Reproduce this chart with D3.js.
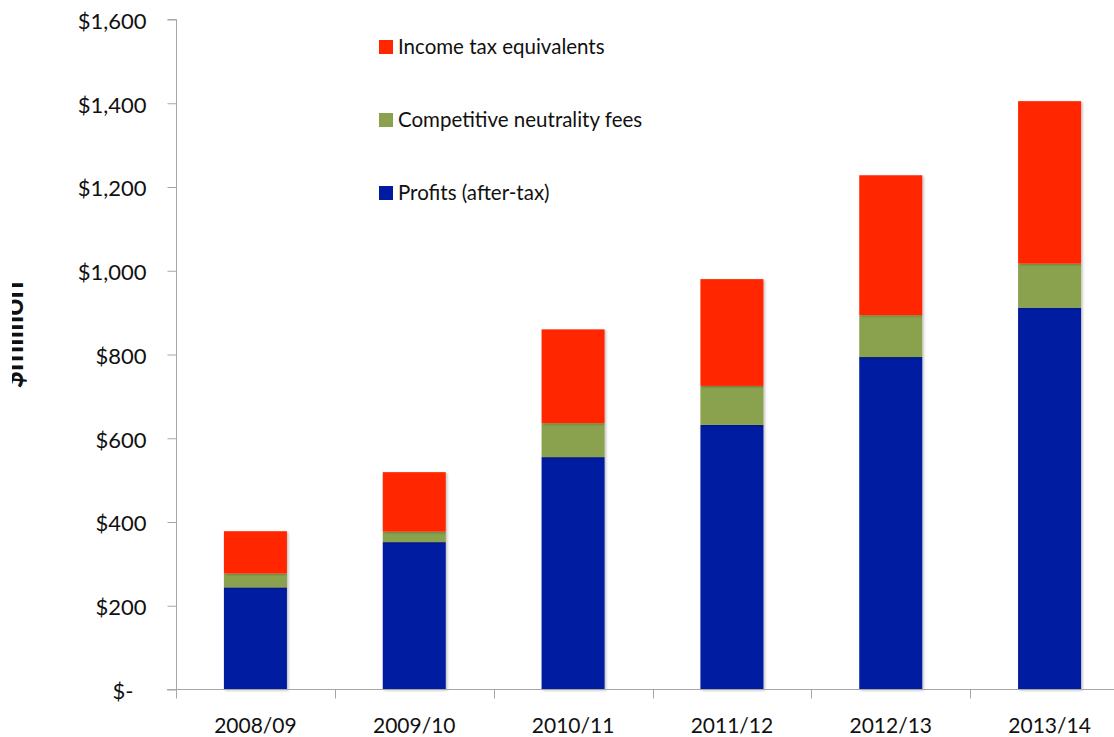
<!DOCTYPE html>
<html><head><meta charset="utf-8">
<script src="https://cdn.jsdelivr.net/npm/d3@7"></script>
<style>
body{margin:0;background:#fff;}
text{font-family:"Lato","Open Sans",sans-serif;fill:#111;}
</style></head>
<body><svg id="c" width="1114" height="737"></svg>
<script>
const categories = ["2008/09","2009/10","2010/11","2011/12","2012/13","2013/14"];
const profits = [244, 352, 555, 632, 794, 912];
const cnFees = [33, 25, 81, 93, 100, 105];
const incomeTax = [101, 142, 224, 255, 334, 388];
const seriesNames = ["Profits (after-tax)","Competitive neutrality fees","Income tax equivalents"];
const seriesColors = ["#001BA0","#8AA14D","#FF2600"];
const yTicks = [0,200,400,600,800,1000,1200,1400,1600];

const svg = d3.select("#c");
const xb = d3.scaleBand().domain(categories).range([176, 1129]);
const y = d3.scaleLinear().domain([0,1600]).range([689.5, 19.5]);

const rows = categories.map((c,i)=>({cat:c, p:profits[i], f:cnFees[i], t:incomeTax[i]}));
const stack = d3.stack().keys(["p","f","t"])(rows);

const defs = svg.append("defs");
const f = defs.append("filter").attr("id","sh").attr("x","-10%").attr("y","-10%").attr("width","130%").attr("height","130%");
f.append("feDropShadow").attr("dx",1.5).attr("dy",1).attr("stdDeviation",1.2).attr("flood-color","#000").attr("flood-opacity",0.25);

const bw = 63;
stack.forEach((s,k)=>{
  svg.append("g").attr("fill",seriesColors[k]).attr("filter","url(#sh)")
    .selectAll("rect").data(s).join("rect")
    .attr("x",d=>xb(d.data.cat)+xb.bandwidth()/2-bw/2)
    .attr("width",bw)
    .attr("y",d=>y(d[1]))
    .attr("height",d=>y(d[0])-y(d[1]));
});

const yAxis = d3.axisLeft(y).tickValues(yTicks).tickSize(9).tickPadding(21)
  .tickFormat(d=> d===0 ? "$-" : "$"+d3.format(",")(d));
const gy = svg.append("g").attr("transform","translate(176.5,0)").call(yAxis);
gy.select(".domain").attr("stroke","#a6a6a6").attr("d","M-9,19.5H0V698");
gy.selectAll(".tick line").attr("stroke","#a6a6a6");
gy.selectAll(".tick text").attr("font-size",22).attr("font-family","Lato, sans-serif").attr("fill","#111")
  .attr("dy","0.4em").attr("dx",d=>d===0?-13:0);

const gx = svg.append("g").attr("transform","translate(0,689.5)");
gx.append("line").attr("x1",167).attr("x2",1114).attr("stroke","#a6a6a6");
gx.selectAll("line.t").data(categories).join("line").attr("class","t")
  .attr("x1",d=>Math.round(xb(d))+0.5).attr("x2",d=>Math.round(xb(d))+0.5).attr("y1",0).attr("y2",9).attr("stroke","#a6a6a6");
gx.selectAll("text").data(categories).join("text")
  .attr("x",d=>xb(d)+xb.bandwidth()/2).attr("y",43)
  .attr("text-anchor","middle").attr("font-size",21).text(d=>d);

defs.append("clipPath").attr("id","cl").append("rect").attr("x",12).attr("y",0).attr("width",100).attr("height",737);
svg.append("g").attr("clip-path","url(#cl)").append("text")
  .attr("transform","translate(23,335) rotate(-90)")
  .attr("text-anchor","middle").attr("font-size",30).attr("font-weight","bold").text("$million");

const legendOrder = [2,1,0];
const lg = svg.append("g");
legendOrder.forEach((k,i)=>{
  const yy = 47 + i*73;
  lg.append("rect").attr("x",379).attr("y",yy-7).attr("width",14).attr("height",14).attr("fill",seriesColors[k]);
  lg.append("text").attr("x",398).attr("y",yy).attr("dy","0.36em").attr("font-size",20.5).text(seriesNames[k]);
});
</script></body></html>
